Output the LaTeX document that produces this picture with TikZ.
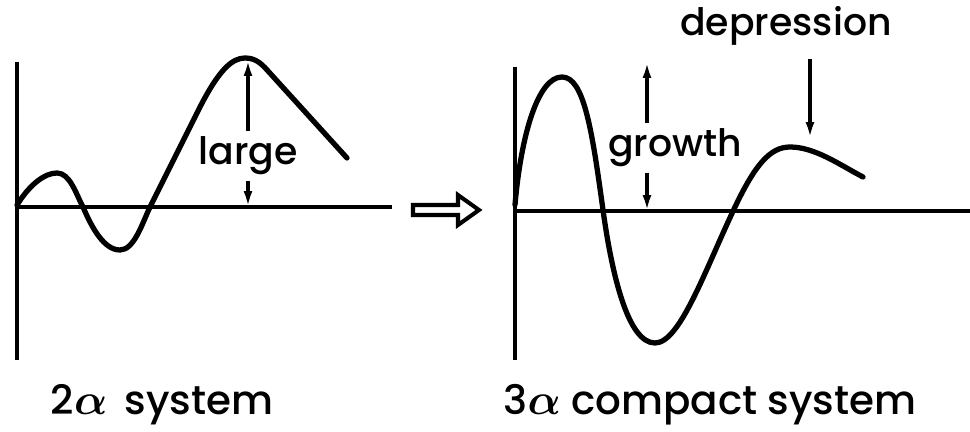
\documentclass[tikz,border=0pt]{standalone}
\usepackage{fontspec}
\setsansfont{Poppins Medium}
\usetikzlibrary{arrows.meta}
\tikzset{
  axisline/.style={line width=2.4pt},
  wave/.style={line width=3pt, line join=round, line cap=round},
  tip/.style={-{Latex[length=3.2mm,width=1.8mm]}, line width=1.8pt},
  lbl/.style={font=\fontsize{21.5}{25}\selectfont\sffamily, inner sep=3pt},
  caption/.style={font=\fontsize{23}{27}\selectfont\sffamily\boldmath, inner sep=0pt},
}

\begin{document}
\begin{tikzpicture}[x=0.02cm, y=-0.02cm]
  \useasboundingbox (0,0) rectangle (970,432);

  % 2 alpha system
  \draw[axisline] (17,62) -- (17,360);
  \draw[axisline] (17,207) -- (392,207);
  \draw[wave] (17,205) .. controls (30,184) and (45,173) .. (57,173)
        .. controls (70,173) and (76,194) .. (83,207)
        .. controls (92,228) and (104,250) .. (120,250)
        .. controls (134,250) and (142,224) .. (150,207)
        -- (200,107) .. controls (219,70) and (232,58) .. (245,58)
        .. controls (255,58) and (261,63) .. (268,71) -- (347,158);
  \coordinate (peakL) at (248,60);
  \coordinate (baseL) at (248,207);
  \node[lbl] (large) at (248,156) {large};
  \draw[tip] (large) -- (peakL);
  \draw[tip] (large) -- (baseL);
  \node[caption] (capL) at (162,405) {2$\alpha$\, system};

  % hollow arrow
  \draw[line width=2.3pt, line join=miter] (413,205) -- (458,205) -- (458,195) -- (479,210)
        -- (458,225) -- (458,215) -- (413,215) -- cycle;

  % 3 alpha compact system
  \draw[axisline] (515,67) -- (515,360);
  \draw[axisline] (515,211) -- (970,211);
  \draw[wave] (515,205) .. controls (521,135) and (538,77) .. (562,77)
        .. controls (584,77) and (592,130) .. (603,210)
        .. controls (612,275) and (628,343) .. (655,343)
        .. controls (680,343) and (705,270) .. (735,207)
        .. controls (755,165) and (770,147) .. (790,147)
        .. controls (815,147) and (840,165) .. (863,177);
  \coordinate (gtop) at (647,62);
  \coordinate (gbot) at (647,211);
  \node[lbl] (growth) at (675,148) {growth};
  \draw[tip] (growth.north -| gtop) -- (gtop);
  \draw[tip] (growth.south -| gbot) -- (gbot);
  \coordinate (dtip) at (810,138);
  \node[lbl] (depr) at (786,26) {depression};
  \draw[tip] (depr.south -| dtip) ++(0,8) -- (dtip);
  \node[caption] (capR) at (710,405) {3$\alpha$ compact system};
\end{tikzpicture}
\end{document}
